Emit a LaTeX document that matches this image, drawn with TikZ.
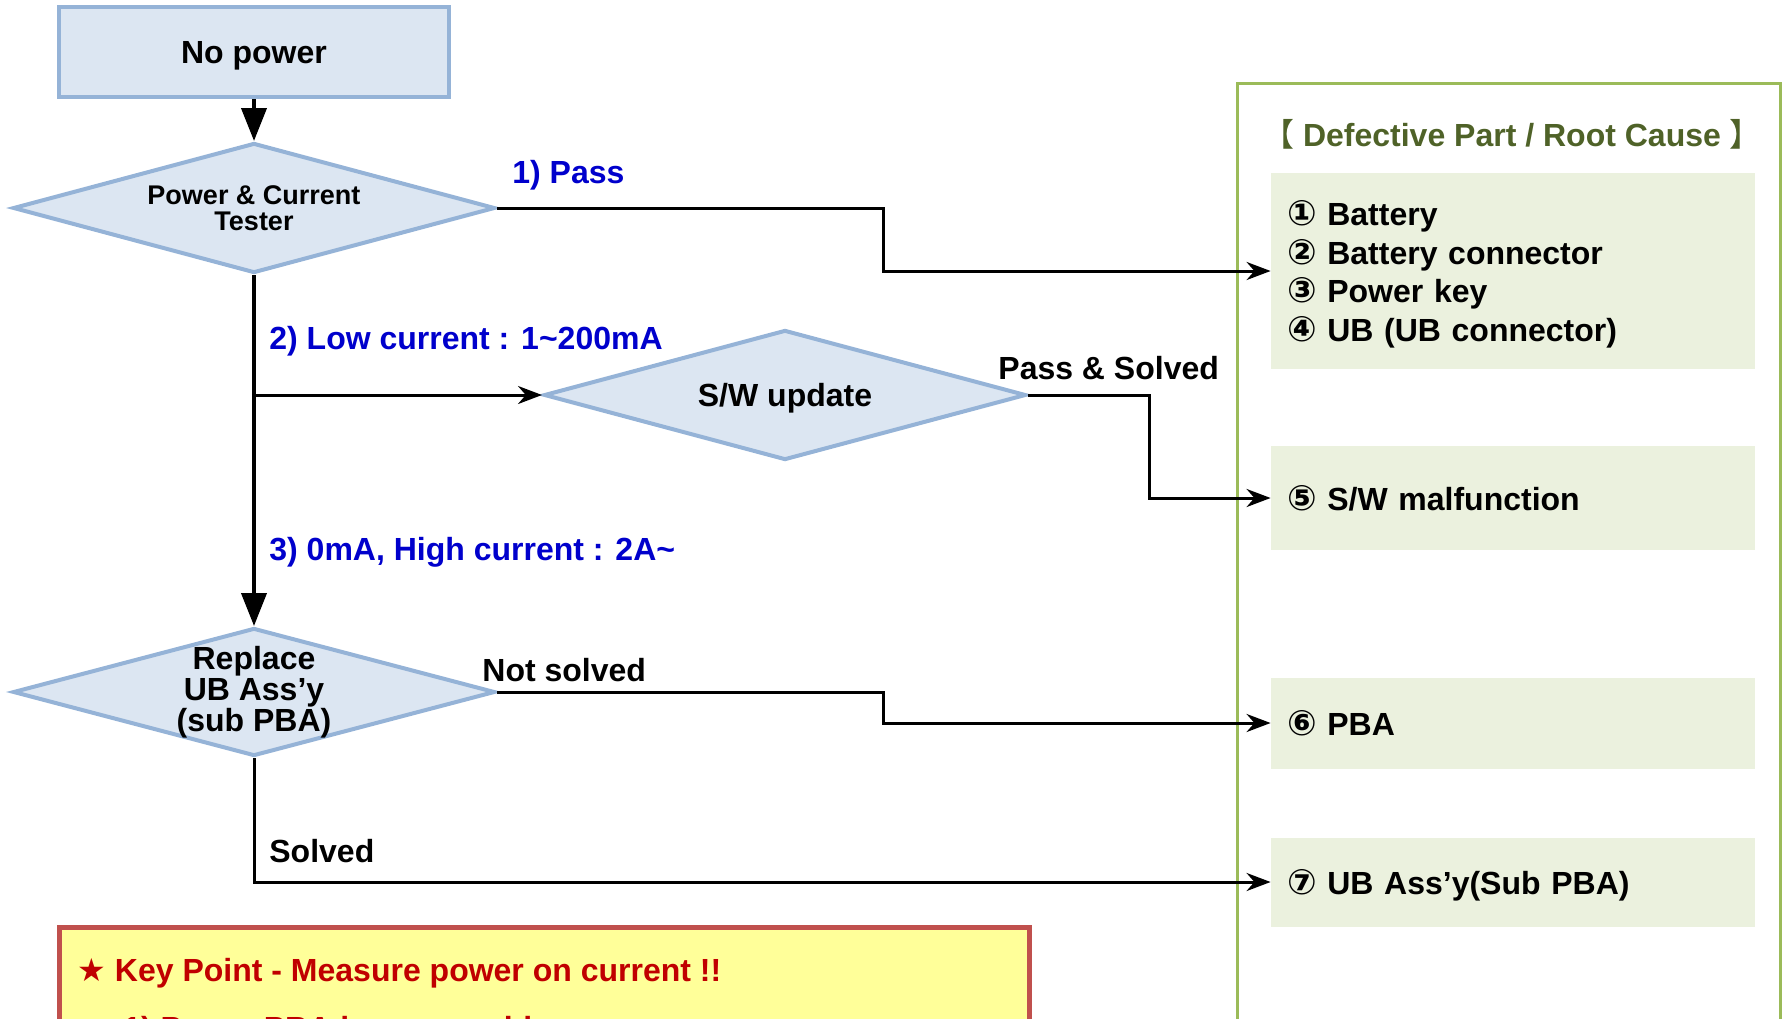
\documentclass[tikz,border=0pt]{standalone}
\usepackage{fontspec}
\setmainfont{Liberation Sans}
\newfontfamily\dejavu{DejaVu Sans}
\newfontfamily\cjk{Noto Sans CJK SC}
\usepackage{tikz}
\usetikzlibrary{shapes,arrows.meta,positioning,calc}

\definecolor{boxblue}{HTML}{DCE6F2}
\definecolor{lineblue}{HTML}{95B3D7}
\definecolor{lblblue}{HTML}{0000CC}
\definecolor{panelgreen}{HTML}{9BBB59}
\definecolor{causefill}{HTML}{EBF1DE}
\definecolor{titlegreen}{HTML}{4F6228}
\definecolor{notefill}{HTML}{FFFF99}
\definecolor{noteline}{HTML}{C0504D}
\definecolor{notered}{HTML}{C00000}

\newcommand{\circnum}[1]{{\dejavu\bfseries\fontsize{35}{35}\selectfont #1}}

\begin{document}
\begin{tikzpicture}[x=1pt, y=-1pt, thick,
        start/.style={rectangle, draw=lineblue, line width=4pt, fill=boxblue, minimum width=390pt, minimum height=90pt, text depth=0pt, font=\fontsize{32}{32}\selectfont\bfseries},
        dec/.style={diamond, draw=lineblue, line width=4pt, fill=boxblue, inner sep=0pt, aspect=3.7, minimum width=482pt, minimum height=130pt, align=center, font=\fontsize{32}{31}\selectfont\bfseries},
        cause/.style={rectangle, fill=causefill, minimum width=484pt, text width=452pt, align=left, font=\fontsize{32}{38.5}\selectfont\bfseries},
        lbl/.style={anchor=west, inner sep=0pt, text=lblblue, font=\fontsize{32}{32}\selectfont\bfseries},
        blk/.style={anchor=west, inner sep=0pt, font=\fontsize{32}{32}\selectfont\bfseries},
        keytxt/.style={anchor=west, inner sep=0pt, text=notered, font=\fontsize{32}{32}\selectfont\bfseries},
        line/.style={line width=3pt, -{Stealth[length=24pt, width=18pt]}},
        main/.style={line width=4pt, -{Triangle[length=33pt, width=25pt]}}]

        \useasboundingbox (0,0) rectangle (1783,1018);

        % right panel
        \draw [panelgreen, line width=3pt] (1237,1100) -- (1237,83) -- (1780,83) -- (1780,1100);
        \node [text=titlegreen, font=\fontsize{32}{32}\selectfont\bfseries] (title) at (1512,134) {{\cjk\mdseries 【}\;Defective Part / Root Cause\;{\cjk\mdseries 】}};

        \node [cause, minimum height=196pt, text depth=115.5pt] (c1) at (1513,271) {\circnum{①} Battery\\\circnum{②} Battery connector\\\circnum{③} Power key\\\circnum{④} UB (UB connector)};
        \node [cause, minimum height=104pt, text depth=0pt] (c5) at (1513,498) {\circnum{⑤} S/W malfunction};
        \node [cause, minimum height=91pt, text depth=0pt] (c6) at (1513,723) {\circnum{⑥} PBA};
        \node [cause, minimum height=89pt, text depth=0pt] (c7) at (1513,882) {\circnum{⑦} UB Ass’y(Sub PBA)};

        % flow
        \node [start] (nopower) at (254,52) {No power};
        \node [dec, font=\fontsize{27}{26}\selectfont\bfseries] (tester) at (254,208) {Power \& Current\\Tester};
        \node [dec, text depth=0pt] (swup) at (785,395) {S/W update};
        \node [dec, inner sep=-4pt, minimum height=128pt] (replace) at (254,692) {Replace\\UB Ass’y\\(sub PBA)};
        \coordinate (branch) at (tester.south |- swup.west);

        \node [lbl] (passlbl) at (512,175) {1) Pass};
        \node [lbl] (lowlbl) at (269,341) {2) Low current : 1\textasciitilde200mA};
        \node [lbl] (highlbl) at (269,552) {3) 0mA, High current : 2A\textasciitilde};
        \node [blk] (passsolved) at (998,368) {Pass \& Solved};
        \node [blk] (notsolved) at (482,670) {Not solved};
        \node [blk] (solved) at (269,851) {Solved};

        \draw [main] (nopower) -- (tester);
        \draw [main] (tester) -- (replace);
        \draw [line] (branch) -- (swup.west);
        \draw [line] (tester.east) -| ($(tester.east)!.5!(c1.west)$) |- (c1.west);
        \draw [line] (swup.east) -| ($(swup.east)!.5!(c5.west)$) |- (c5.west);
        \draw [line] (replace.east) -| ($(replace.east)!.5!(c6.west)$) |- (c6.west);
        \draw [line] (replace.south) |- (c7.west);

        % key point note
        \draw [noteline, fill=notefill, line width=5pt] (59,1100) rectangle (1029,927);
        \node [keytxt] (key) at (77,973) {{\dejavu\mdseries ★} Key Point - Measure power on current !!};
        \node [keytxt] (key2) at (123,1031) {1) Pass - PBA has no problem};
    \end{tikzpicture}
\end{document}
